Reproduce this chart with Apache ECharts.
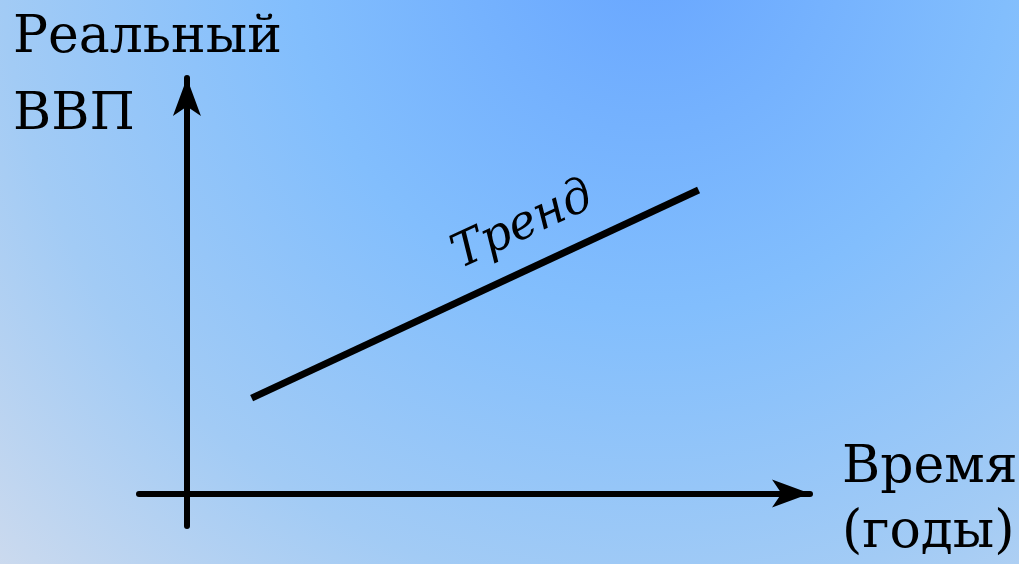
<!DOCTYPE html>
<html>
<head>
<meta charset="utf-8">
<script src="https://cdn.jsdelivr.net/npm/echarts@6/dist/echarts.min.js"></script>
<style>
  html, body { margin: 0; padding: 0; }
  #chart { width: 1019px; height: 564px; }
</style>
</head>
<body>
<div id="chart"></div>
<script>
// data
var trendX = [1.08, 8.54];     // время
var trendY = [2.34, 7.45];     // реальный ВВП
var xRange = [-0.8, 10.4];
var yRange = [-0.8, 10.2];
var yTitle = ['Реальный', 'ВВП'];
var xTitle = ['Время', '(годы)'];
var trendText = 'Тренд';

var chart = echarts.init(document.getElementById('chart'));

var axisLine = {
  show: true,
  onZero: true,
  symbol: ['none', 'arrow'],
  symbolSize: [21, 38],
  lineStyle: { color: '#000', width: 6 }
};

var option = {
  animation: false,
  grid: { left: 139, right: 209, top: 78, bottom: 38 },
  xAxis: {
    type: 'value', min: xRange[0], max: xRange[1],
    axisLine: axisLine,
    axisTick: { show: false }, axisLabel: { show: false }, splitLine: { show: false }
  },
  yAxis: {
    type: 'value', min: yRange[0], max: yRange[1],
    axisLine: axisLine,
    axisTick: { show: false }, axisLabel: { show: false }, splitLine: { show: false }
  },
  graphic: [
    {
      type: 'rect', z: -10, silent: true,
      shape: { x: 0, y: 0, width: 1019, height: 564 },
      style: {
        fill: new echarts.graphic.RadialGradient(650, -50, 900, [
          { offset: 0, color: '#68a6ff' },
          { offset: 0.4, color: '#82befd' },
          { offset: 0.72, color: '#a2cbf5' },
          { offset: 1, color: '#ccdaee' }
        ], true)
      }
    },
    {
      type: 'text', left: 13, top: 0,
      style: {
        text: yTitle.join('\n'), fill: '#000',
        fontFamily: 'DejaVu Serif', fontSize: 52, lineHeight: 77
      }
    },
    {
      type: 'text', left: 842, top: 436,
      style: {
        text: xTitle.join('\n'), fill: '#000',
        fontFamily: 'DejaVu Serif', fontSize: 52, lineHeight: 65
      }
    },
    {
      type: 'text', x: 523, y: 226,
      rotation: Math.atan2(398 - 190, 698.5 - 251.5),
      style: {
        text: trendText, fill: '#000',
        fontFamily: 'DejaVu Serif', fontSize: 47, fontStyle: 'italic',
        align: 'center', verticalAlign: 'middle'
      }
    }
  ],
  series: [{
    type: 'line',
    data: [[trendX[0], trendY[0]], [trendX[1], trendY[1]]],
    symbol: 'none',
    lineStyle: { color: '#000', width: 7, cap: 'butt' }
  }]
};
chart.setOption(option);
</script>
</body>
</html>
